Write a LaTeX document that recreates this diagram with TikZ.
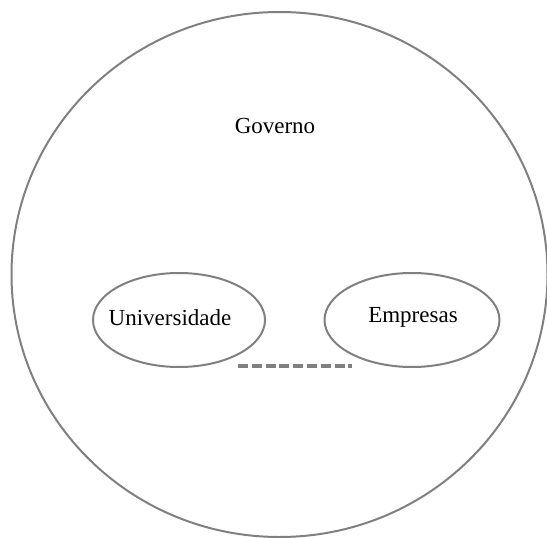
\documentclass[tikz,border=0pt]{standalone}
\usepackage{fontspec}
\setmainfont{Liberation Serif}
\usetikzlibrary{shapes.geometric}
\definecolor{linegray}{RGB}{128,128,128}
\begin{document}
\begin{tikzpicture}[x=1pt,y=-1pt,
  outline/.style={draw=linegray,line width=2pt},
  label/.style={font=\fontsize{23}{27}\selectfont,inner sep=0pt}]
\useasboundingbox (0,0) rectangle (547,538);
\draw[outline] (279.5,274.5) ellipse [x radius=268, y radius=262.5];
\node[label] (gov) at (275,126) {Governo};
\node[outline,ellipse,minimum width=172pt,minimum height=94pt,inner sep=0pt] (uni) at (179,320) {};
\node[label] (unitxt) at (170,318) {Universidade};
\node[outline,ellipse,minimum width=175pt,minimum height=94pt,inner sep=0pt] (emp) at (412,320) {};
\node[label] (emptxt) at (413,317) {Empresas};
\coordinate (d1) at (238,366);
\coordinate (d2) at (352,366);
\draw[draw=linegray,line width=3.5pt,dash pattern=on 10pt off 3.8pt] (d1) -- (d2);
\end{tikzpicture}
\end{document}
